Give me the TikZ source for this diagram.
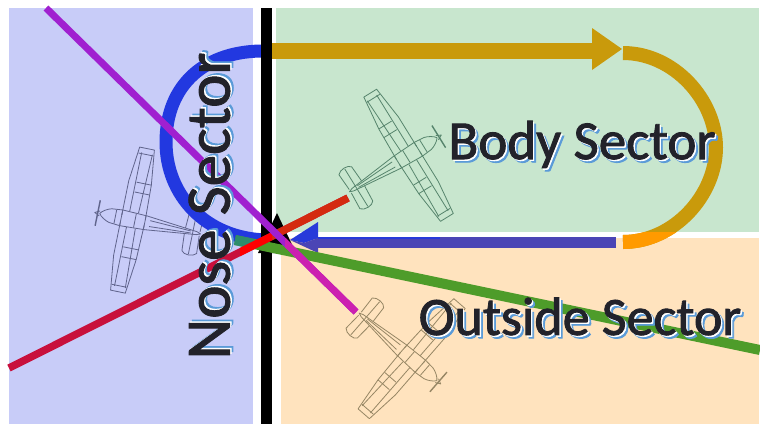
\documentclass[tikz,border=0pt]{standalone}
\usepackage{fontspec}
\setmainfont{Carlito}
\newfontfamily\sectorfont[FakeBold=1.6]{Carlito}
\usetikzlibrary{calc}
\definecolor{panelblue}{HTML}{C8CCF8}
\definecolor{panelgreen}{HTML}{C8E6CE}
\definecolor{panelpeach}{HTML}{FFE3BE}
\definecolor{arcblue}{HTML}{2238E0}
\definecolor{gold}{HTML}{C99A0B}
\definecolor{amber}{HTML}{FF9A00}
\definecolor{shaft}{HTML}{4B45B5}
\definecolor{lgreen}{HTML}{4E9C2A}
\definecolor{teal}{HTML}{2E8C6C}
\definecolor{lred}{HTML}{D42A10}
\definecolor{crimson}{HTML}{C8103C}
\definecolor{lpurple}{HTML}{A020D0}
\definecolor{lmagenta}{HTML}{CC20B0}
\definecolor{inkdark}{HTML}{22222A}
\definecolor{shadowblue}{HTML}{5B9BD8}
\newcommand{\shadowtext}[1]{\rlap{\kern3.2pt\raisebox{-3.2pt}{\textcolor{shadowblue}{#1}}}\rlap{\kern1.4pt\raisebox{-1.4pt}{\textcolor{white}{#1}}}\textcolor{inkdark}{#1}}
\tikzset{
  x=1pt,y=-1pt,
  sectorlabel/.style={inner sep=0pt,sectorsize=54},
  sectorsize/.style={font=\sectorfont\fontsize{#1}{#1}\selectfont},
  planeline/.style={line width=0.8pt,line join=round},
  plane/.pic={
    \begin{scope}[planeline]
    % wings
    \draw (11,-3) -- (11,-38) -- (7,-73) -- (-8,-73) -- (-12,-38) -- (-13,-3);
    \draw (11,3) -- (11,38) -- (7,73) -- (-8,73) -- (-12,38) -- (-13,3);
    \draw (-5,-8) -- (-7,-68) (-5,8) -- (-7,68);
    \draw (4,-8) -- (4,-68) (4,8) -- (4,68);
    \draw (-12,-28) -- (3,-28) (-12,-38) -- (3,-38) (-12,28) -- (3,28) (-12,38) -- (3,38);
    \draw (7,-67) -- (-8,-67) (7,67) -- (-8,67);
    % fuselage
    \draw (33,0) .. controls (31,-3) and (26,-6) .. (22,-7) -- (11,-8) -- (-14,-7) -- (-66,-1.5) -- (-70,0) -- (-66,1.5) -- (-14,7) -- (11,8) -- (22,7) .. controls (26,6) and (31,3) .. (33,0);
    \draw (11,-8) -- (11,8) (-13,-7) -- (-13,7) (-3,-7) -- (-3,7) (17,-7) -- (17,7);
    \draw (-18,-3) -- (-60,-1) (-18,3) -- (-60,1);
    % tail
    \draw (-54,-3) -- (-55,-20) .. controls (-57,-24) and (-67,-24) .. (-70,-20) -- (-69,-2);
    \draw (-54,3) -- (-55,20) .. controls (-57,24) and (-67,24) .. (-70,20) -- (-69,2);
    \draw (-62,-22) -- (-62,22);
    % propeller
    \draw[line width=1.4pt] (35,-13) -- (35,13);
    \draw (33,-2.5) -- (38,0) -- (33,2.5);
    \end{scope}
  }
}
\begin{document}
\begin{tikzpicture}
\useasboundingbox (0,0) rectangle (760,424);
\fill[white] (0,0) rectangle (760,424);
\fill[panelblue] (9,8) rectangle (253,424);
\fill[panelgreen] (276,8) rectangle (759,232);
\fill[panelpeach] (281,238) rectangle (759,424);

\pic[draw={rgb,255:red,96;green,100;blue,140}] at (132,220) [rotate=168.5] {plane};
\pic[draw={rgb,255:red,86;green,132;blue,108}] at (409,155) [rotate=31.7] {plane};
\pic[draw={rgb,255:red,150;green,134;blue,100}] at (412,359) [rotate=-41] {plane};

% named ends
\coordinate (blueStart) at (266,51);
\coordinate (blueLeft) at (166,142);
\coordinate (blueEnd) at (266,240);
\coordinate (goldStart) at (272,51);
\coordinate (goldBase) at (592,51);
\coordinate (arcTop) at (623,53);
\coordinate (arcRight) at (716,147.5);
\coordinate (arcBottom) at (623,242);
\coordinate (shaftStart) at (616,242.5);
\coordinate (shaftEnd) at (316,242.5);
\coordinate (greenStart) at (235,240);
\coordinate (greenEnd) at (760,350);
\coordinate (redStart) at (348,198);
\coordinate (redEnd) at (9,368);
\coordinate (purpleStart) at (46,8);
\coordinate (purpleEnd) at (356,312);
\coordinate (barTop) at (266.5,8);
\coordinate (barBottom) at (266.5,424);

% blue arc
\draw[arcblue,line width=13pt] (blueStart) .. controls (205,50) and (166,85) .. (blueLeft) .. controls (166,195) and (205,238) .. (blueEnd);

% gold arrow
\draw[gold,line width=16pt] (goldStart) -- (goldBase);
\fill[gold] (592,28) -- (622,49) -- (592,70) -- cycle;
% gold arc with orange part over the peach panel
\draw[gold,line width=14pt] (arcTop) .. controls (674,53) and (716,100) .. (arcRight) .. controls (716,195) and (674,242) .. (arcBottom);
\begin{scope}
\clip (600,232) rectangle (760,260);
\draw[amber,line width=14pt] (arcTop) .. controls (674,53) and (716,100) .. (arcRight) .. controls (716,195) and (674,242) .. (arcBottom);
\end{scope}

% return arrow
\draw[shaft,line width=11pt] (shaftStart) -- (shaftEnd);
\fill[arcblue!85!shaft] (318,236.5) rectangle (440,238.5);
\fill[arcblue!85!shaft] (290,240) -- (318,222) -- (318,238) -- (304,243) -- cycle;
\fill[shaft] (290,240) -- (304,243) -- (318,238) -- (318,253) -- cycle;

% black bar and its arrow head
\draw[black,line width=11pt] (barTop) -- (barBottom);
\fill[black] (277,213) -- (296,253) -- (258,253) -- cycle;

% green line
\draw[lgreen,line width=10pt] (greenStart) -- (greenEnd);
\begin{scope}
\clip (225,225) rectangle (254,260);
\draw[teal,line width=10pt] (greenStart) -- (greenEnd);
\end{scope}

% red line
\draw[crimson,line width=7.5pt] (redStart) -- (redEnd);
\begin{scope}
\clip (272,150) rectangle (360,250);
\draw[lred,line width=7.5pt] (redStart) -- (redEnd);
\end{scope}
\begin{scope}
\clip (240,200) rectangle (272,270);
\draw[red,line width=7.5pt] (redStart) -- (redEnd);
\end{scope}

% purple line
\draw[lpurple,line width=7pt] (purpleStart) -- (purpleEnd);
\begin{scope}
\clip (285,238) rectangle (360,320);
\draw[lmagenta,line width=7pt] (purpleStart) -- (purpleEnd);
\end{scope}

% labels
\node[sectorlabel,sectorsize=63,rotate=90] (nose) at (211,206) {\shadowtext{Nose Sector}};
\node[sectorlabel,sectorsize=55] (body) at (582,146) {\shadowtext{Body Sector}};
\node[sectorlabel,sectorsize=54] (outside) at (580,318) {\shadowtext{Outside Sector}};
\end{tikzpicture}
\end{document}
